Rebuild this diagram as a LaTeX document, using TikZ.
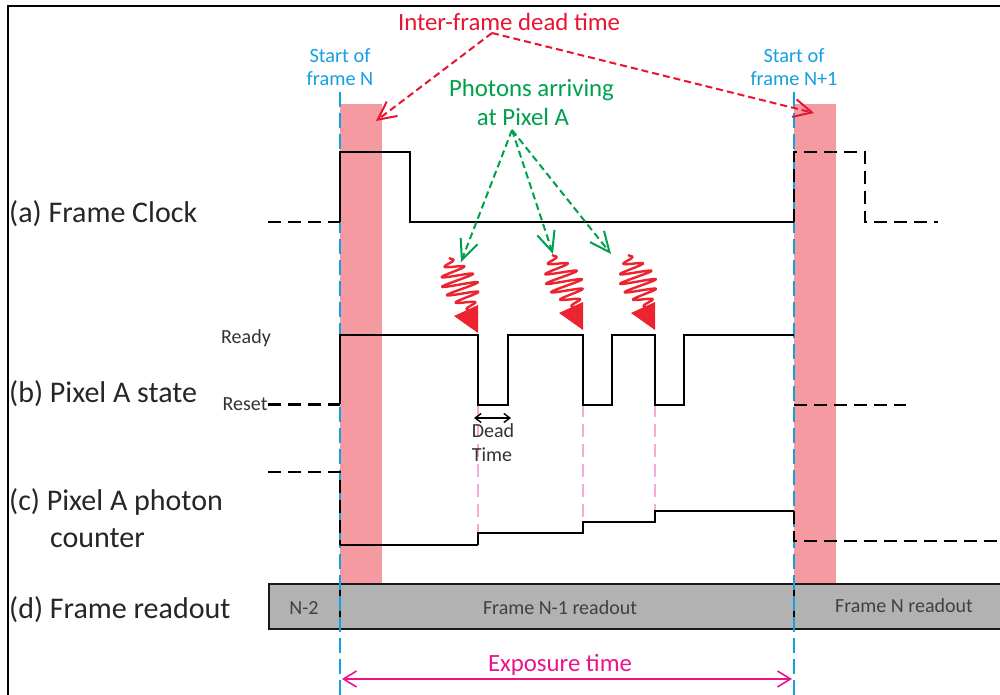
\documentclass[tikz,border=0pt]{standalone}
\usepackage{fontspec}
\setmainfont{Carlito}
\usetikzlibrary{arrows.meta}
\definecolor{bandred}{RGB}{244,154,160}
\definecolor{capblue}{RGB}{20,160,225}
\definecolor{capred}{RGB}{232,20,50}
\definecolor{capgreen}{RGB}{0,160,75}
\definecolor{capmag}{RGB}{236,20,140}
\definecolor{phred}{RGB}{236,36,48}
\definecolor{pinkdash}{RGB}{245,170,215}
\definecolor{rogray}{RGB}{178,178,178}
\tikzset{
  sig/.style={draw=black,line width=2pt,line join=miter},
  sigdash/.style={sig,line width=2.3pt,dash pattern=on 13pt off 7pt},
  startline/.style={draw=capblue,line width=1.8pt,dash pattern=on 15pt off 6pt},
  band/.style={fill=bandred,draw=none},
  rowlabel/.style={anchor=west,font=\fontsize{30}{32}\selectfont,text=black!85,inner sep=0pt},
  smalllabel/.style={font=\fontsize{20}{22}\selectfont,text=black!80,inner sep=0pt},
  bluecap/.style={font=\fontsize{20.3}{23}\selectfont,text=capblue,align=center,inner sep=0pt},
  redarrow/.style={draw=capred,line width=2pt,dash pattern=on 7pt off 4pt,-{Straight Barb[length=18pt,width=18pt,line width=2pt]}},
  greenarrow/.style={draw=capgreen,line width=2pt,dash pattern=on 7pt off 4pt,-{Straight Barb[length=20pt,width=18pt,line width=2pt]}},
  greencap/.style={font=\fontsize{24.8}{26}\selectfont,text=capgreen,inner sep=0pt},
  roview/.style={font=\fontsize{20}{22}\selectfont,text=black!75,inner sep=0pt}
}
% photon: tip at (#1,#2), wave start offset #3
\newcommand{\photon}[3]{%
  \begin{scope}[shift={(#1,#2)}]
    \fill[phred] (0,0) -- (-24,-17) -- (0,-28) -- cycle;
    \draw[phred,line width=2.4pt,line join=round] plot[smooth,samples=180,domain=0:1,variable=\t]
      ({#3+(-7-#3)*\t+(17*sin(180*\t)+1)*sin(2160*\t)*0.95},{-75+53*\t-(17*sin(180*\t)+1)*sin(2160*\t)*0.25});
  \end{scope}}
\begin{document}
\begin{tikzpicture}[x=1pt,y=-1pt]
\useasboundingbox (0,0) rectangle (1000,695);
\fill[white] (0,0) rectangle (1000,695);
\draw[black,line width=1.8pt] (8,695) -- (8,6) -- (1000,6);
% bands
\fill[band] (340,104) rectangle (382,584);
\fill[band] (794,104) rectangle (836,584);
% pink dashes
\draw[pinkdash,line width=1.3pt,dash pattern=on 13pt off 7pt] (478,404) -- (478,545);
\draw[pinkdash,line width=1.3pt,dash pattern=on 13pt off 7pt] (583,404) -- (583,533);
\draw[pinkdash,line width=1.3pt,dash pattern=on 13pt off 7pt] (655,404) -- (655,522);
% readout
\node[draw=black!90,line width=2pt,fill=rogray,outer sep=0pt,minimum width=740pt,minimum height=45pt,inner sep=0pt,anchor=north west] (ro) at (269,584) {};
\draw[black,line width=2pt] (340,584) -- (340,629);
\draw[black,line width=1.2pt] (794,584) -- (794,629);
\node[roview] (n2) at (304,608) {N-2};
\node[roview] (n1) at (560,608) {Frame N-1 readout};
\node[roview] (n0) at (904,606) {Frame N readout};
% start lines
\draw[startline] (340,92) -- (340,695);
\draw[startline] (794,92) -- (794,695);
% signals
\draw[sigdash] (268,222) -- (340,222);
\draw[sig] (340,222) -- (340,152) -- (410,152) -- (410,222) -- (794,222);
\draw[sigdash] (794,222) -- (794,152) -- (865,152) -- (865,222) -- (938,222);
\draw[sigdash] (268,404.5) -- (340,404.5);
\draw[sig] (340,404) -- (340,334.5) -- (478,334.5) -- (478,404.5) -- (508,404.5) -- (508,334.5) -- (583,334.5) -- (583,404.5) -- (612,404.5) -- (612,334.5) -- (655,334.5) -- (655,404.5) -- (684,404.5) -- (684,334.5) -- (794,334.5);
\draw[sigdash] (794,405) -- (906,405);
\draw[sigdash] (268,472) -- (340,472) -- (340,545);
\draw[sig,line width=1.3pt] (340,545) -- (478,545);
\draw[sig] (478,545) -- (478,533) -- (583,533) -- (583,522) -- (655,522) -- (655,511) -- (794,511);
\draw[sigdash] (794,511) -- (794,541) -- (1000,541);
% row labels
\node[rowlabel] (la) at (9,214) {(a) Frame Clock};
\node[rowlabel] (lb) at (9,394) {(b) Pixel A state};
\node[rowlabel] (lc1) at (9,502) {(c) Pixel A photon};
\node[rowlabel] (lc2) at (50,538) {counter};
\node[rowlabel] (ld) at (9,610) {(d) Frame readout};
\node[smalllabel] (ready) at (246,338) {Ready};
\node[smalllabel] (reset) at (245,404) {Reset};
% captions
\node[bluecap] (sn) at (340,67) {Start of\\frame N};
\node[bluecap] (sn1) at (794,67) {Start of\\frame N+1};
\node[font=\fontsize{24.8}{26}\selectfont,text=capred,inner sep=0pt] (idt) at (509,22) {Inter-frame dead time};
\node[greencap] (ph1) at (531.5,90) {Photons arriving};
\node[greencap] (ph2) at (523,117) {at Pixel A};
\coordinate (src1) at (492,33);
\coordinate (t1) at (376,121);
\coordinate (t2) at (814,113);
\draw[redarrow] (src1) -- (t1);
\draw[redarrow] (src1) -- (t2);
\coordinate (src2) at (512,130);
\coordinate (g1) at (461,262);
\coordinate (g2) at (553,254);
\coordinate (g3) at (611,254);
\draw[greenarrow] (src2) -- (g1);
\draw[greenarrow] (src2) -- (g2);
\draw[greenarrow] (src2) -- (g3);
% photons
\photon{478}{333}{-29}
\photon{583}{330}{-31}
\photon{655}{330}{-27}
% dead time
\coordinate (d1) at (474,418);
\coordinate (d2) at (511,418);
\draw[black,line width=1.4pt,{Straight Barb[length=6pt,width=9pt]}-{Straight Barb[length=6pt,width=9pt]}] (d1) -- (d2);
\node[smalllabel] (dead) at (493,431) {Dead};
\node[smalllabel] (time) at (492,455) {Time};
% exposure
\coordinate (e1) at (342,679);
\coordinate (e2) at (792,679);
\draw[capmag,line width=1.6pt,{Straight Barb[length=13pt,width=16pt]}-{Straight Barb[length=13pt,width=16pt]}] (e1) -- (e2);
\node[font=\fontsize{24.8}{26}\selectfont,text=capmag,inner sep=0pt] (exp) at (560,665) {Exposure time};
\end{tikzpicture}
\end{document}
